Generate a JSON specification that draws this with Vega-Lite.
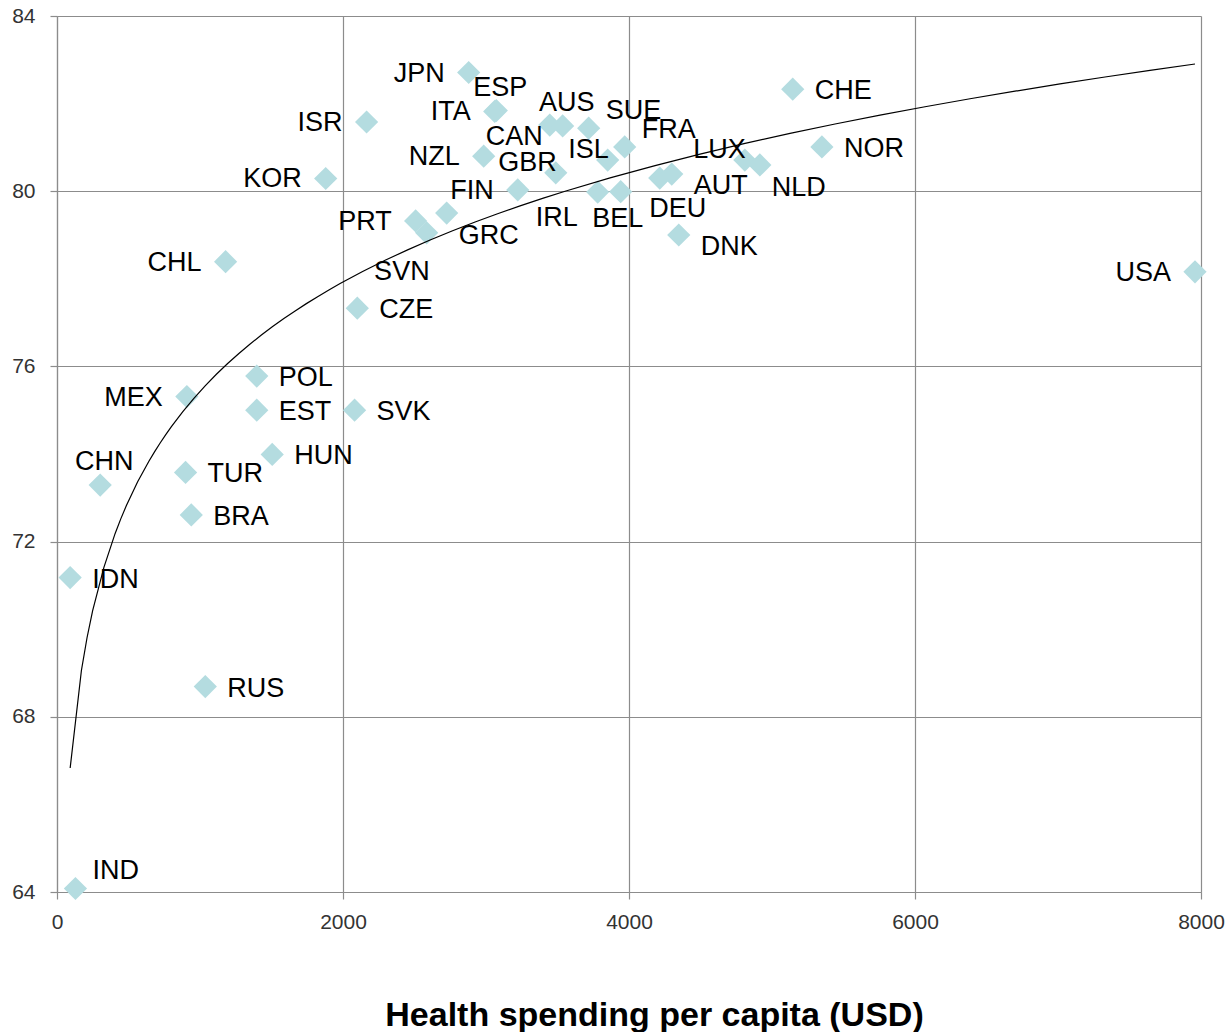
{
  "$schema": "https://vega.github.io/schema/vega-lite/v6.json",
  "width": 1144,
  "height": 876,
  "autosize": {"type": "none"},
  "padding": {"left": 57, "top": 16, "right": 27, "bottom": 140},
  "background": "white",
  "config": {"view": {"stroke": null}, "font": "Liberation Sans"},
  "data": {"values": [
    {"country": "JPN", "spend": 2879, "life": 82.71, "pos": "left"},
    {"country": "ITA", "spend": 3061, "life": 81.82, "pos": "left"},
    {"country": "ESP", "spend": 3072, "life": 81.84, "pos": "above"},
    {"country": "CAN", "spend": 3446, "life": 81.51, "pos": "left-low"},
    {"country": "AUS", "spend": 3536, "life": 81.49, "pos": "above"},
    {"country": "SUE", "spend": 3718, "life": 81.44, "pos": "above-right"},
    {"country": "FRA", "spend": 3970, "life": 81.01, "pos": "above-right"},
    {"country": "ISL", "spend": 3851, "life": 80.71, "pos": "above-left"},
    {"country": "NZL", "spend": 2984, "life": 80.80, "pos": "left"},
    {"country": "GBR", "spend": 3488, "life": 80.42, "pos": "above-left"},
    {"country": "FIN", "spend": 3222, "life": 80.03, "pos": "left"},
    {"country": "IRL", "spend": 3781, "life": 79.98, "pos": "below-left"},
    {"country": "BEL", "spend": 3942, "life": 79.99, "pos": "below"},
    {"country": "GRC", "spend": 2725, "life": 79.50, "pos": "below-right"},
    {"country": "PRT", "spend": 2508, "life": 79.32, "pos": "left"},
    {"country": "SVN", "spend": 2585, "life": 79.05, "pos": "low-left"},
    {"country": "DEU", "spend": 4215, "life": 80.30, "pos": "under"},
    {"country": "AUT", "spend": 4299, "life": 80.39, "pos": "right-low"},
    {"country": "DNK", "spend": 4348, "life": 79.00, "pos": "right-low"},
    {"country": "LUX", "spend": 4810, "life": 80.71, "pos": "above-left"},
    {"country": "NLD", "spend": 4915, "life": 80.60, "pos": "below-right"},
    {"country": "NOR", "spend": 5349, "life": 81.01, "pos": "right"},
    {"country": "CHE", "spend": 5145, "life": 82.33, "pos": "right"},
    {"country": "ISR", "spend": 2165, "life": 81.58, "pos": "left"},
    {"country": "KOR", "spend": 1879, "life": 80.29, "pos": "left"},
    {"country": "CHL", "spend": 1179, "life": 78.39, "pos": "left"},
    {"country": "CZE", "spend": 2100, "life": 77.33, "pos": "right"},
    {"country": "USA", "spend": 7958, "life": 78.16, "pos": "left"},
    {"country": "MEX", "spend": 908, "life": 75.31, "pos": "left"},
    {"country": "POL", "spend": 1397, "life": 75.78, "pos": "right"},
    {"country": "EST", "spend": 1397, "life": 75.00, "pos": "right"},
    {"country": "SVK", "spend": 2081, "life": 75.00, "pos": "right"},
    {"country": "HUN", "spend": 1505, "life": 73.99, "pos": "right"},
    {"country": "TUR", "spend": 899, "life": 73.58, "pos": "right"},
    {"country": "BRA", "spend": 939, "life": 72.61, "pos": "right"},
    {"country": "CHN", "spend": 302, "life": 73.29, "pos": "above"},
    {"country": "IDN", "spend": 92, "life": 71.18, "pos": "right"},
    {"country": "RUS", "spend": 1037, "life": 68.69, "pos": "right"},
    {"country": "IND", "spend": 129, "life": 64.08, "pos": "above-right"}
  ]},
  "encoding": {
    "x": {
      "field": "spend", "type": "quantitative",
      "scale": {"domain": [0, 8000], "nice": false, "zero": false},
      "axis": {
        "title": "Health spending per capita (USD)",
        "values": [0, 2000, 4000, 6000, 8000],
        "format": "d",
        "grid": true, "gridColor": "#8c8c8c", "gridWidth": 1.2,
        "domainColor": "#8c8c8c", "domainWidth": 1.2,
        "tickColor": "#8c8c8c", "tickSize": 7, "tickWidth": 1.2,
        "labelFontSize": 21, "labelColor": "#333333", "labelPadding": 12,
        "labelFlush": false, "labelOverlap": false,
        "titleFontSize": 34, "titleFontWeight": "bold", "titleColor": "black",
        "titleX": 597, "titleY": 133, "titleBaseline": "alphabetic", "titleAlign": "center"
      }
    },
    "y": {
      "field": "life", "type": "quantitative",
      "scale": {"domain": [64, 84], "nice": false, "zero": false},
      "axis": {
        "title": null,
        "values": [64, 68, 72, 76, 80, 84],
        "grid": true, "gridColor": "#8c8c8c", "gridWidth": 1.2,
        "domainColor": "#8c8c8c", "domainWidth": 1.2,
        "tickColor": "#8c8c8c", "tickSize": 7, "tickWidth": 1.2,
        "labelFontSize": 21, "labelColor": "#333333", "labelPadding": 15,
        "labelFlush": false, "labelOverlap": false
      }
    }
  },
  "layer": [
    {"mark": {"type": "point", "shape": "diamond", "filled": true, "size": 540, "color": "#b4dce0", "opacity": 1}},
    {"transform": [{"regression": "life", "on": "spend", "method": "log"}],
     "mark": {"type": "line", "color": "black", "strokeWidth": 1.2}},
    {"transform": [{"filter": "datum.pos === 'left'"}],
     "mark": {"type": "text", "align": "right", "baseline": "middle", "dx": -24, "dy": 1, "fontSize": 27, "color": "black"},
     "encoding": {"text": {"field": "country"}}},
    {"transform": [{"filter": "datum.pos === 'right'"}],
     "mark": {"type": "text", "align": "left", "baseline": "middle", "dx": 22, "dy": 2, "fontSize": 27, "color": "black"},
     "encoding": {"text": {"field": "country"}}},
    {"transform": [{"filter": "datum.pos === 'above'"}],
     "mark": {"type": "text", "align": "center", "baseline": "middle", "dx": 4, "dy": -23, "fontSize": 27, "color": "black"},
     "encoding": {"text": {"field": "country"}}},
    {"transform": [{"filter": "datum.pos === 'above-right'"}],
     "mark": {"type": "text", "align": "left", "baseline": "middle", "dx": 17, "dy": -17, "fontSize": 27, "color": "black"},
     "encoding": {"text": {"field": "country"}}},
    {"transform": [{"filter": "datum.pos === 'above-left'"}],
     "mark": {"type": "text", "align": "right", "baseline": "middle", "dx": 1, "dy": -10, "fontSize": 27, "color": "black"},
     "encoding": {"text": {"field": "country"}}},
    {"transform": [{"filter": "datum.pos === 'below'"}],
     "mark": {"type": "text", "align": "center", "baseline": "middle", "dx": -3, "dy": 27, "fontSize": 27, "color": "black"},
     "encoding": {"text": {"field": "country"}}},
    {"transform": [{"filter": "datum.pos === 'under'"}],
     "mark": {"type": "text", "align": "center", "baseline": "middle", "dx": 18, "dy": 31, "fontSize": 27, "color": "black"},
     "encoding": {"text": {"field": "country"}}},
    {"transform": [{"filter": "datum.pos === 'below-left'"}],
     "mark": {"type": "text", "align": "right", "baseline": "middle", "dx": -20, "dy": 26, "fontSize": 27, "color": "black"},
     "encoding": {"text": {"field": "country"}}},
    {"transform": [{"filter": "datum.pos === 'low-left'"}],
     "mark": {"type": "text", "align": "right", "baseline": "middle", "dx": 3, "dy": 39, "fontSize": 27, "color": "black"},
     "encoding": {"text": {"field": "country"}}},
    {"transform": [{"filter": "datum.pos === 'left-low'"}],
     "mark": {"type": "text", "align": "right", "baseline": "middle", "dx": -7, "dy": 12, "fontSize": 27, "color": "black"},
     "encoding": {"text": {"field": "country"}}},
    {"transform": [{"filter": "datum.pos === 'below-right'"}],
     "mark": {"type": "text", "align": "left", "baseline": "middle", "dx": 12, "dy": 23, "fontSize": 27, "color": "black"},
     "encoding": {"text": {"field": "country"}}},
    {"transform": [{"filter": "datum.pos === 'right-low'"}],
     "mark": {"type": "text", "align": "left", "baseline": "middle", "dx": 22, "dy": 12, "fontSize": 27, "color": "black"},
     "encoding": {"text": {"field": "country"}}}
  ]
}
